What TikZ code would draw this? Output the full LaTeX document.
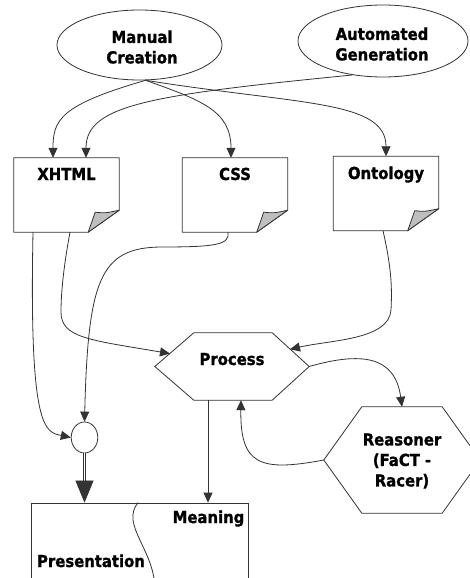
\documentclass[tikz,border=0pt]{standalone}
\usepackage{fontspec}
\setmainfont{DejaVu Sans Condensed}[BoldFeatures={FakeBold=1.2}]
\usetikzlibrary{arrows.meta,shapes.geometric}
\begin{document}
\begin{tikzpicture}[x=1pt,y=-1pt,
  ln/.style={draw=black!80,line width=0.8pt},
  arr/.style={ln,-{Triangle[length=10pt,width=9pt]}},
  txt/.style={font=\fontsize{16.5}{20.5}\selectfont\bfseries,align=center,inner sep=0pt},
  src/.style={ellipse,ln,fill=white,inner sep=0pt},
  docbox/.style={rectangle,inner sep=0pt,minimum width=105pt,minimum height=74pt},
  fold/.style={ln,fill=black!25,line join=round}
]
\useasboundingbox (0,0) rectangle (470,578);
\clip (0,0) rectangle (470,578);
\fill[white] (0,0) rectangle (470,578);

% sources
\node[src,minimum width=165pt,minimum height=70pt] (mc) at (139.5,45) {};
\node[txt] (mcT) at (142,47) {Manual\\Creation};
\node[src,minimum width=170pt,minimum height=72pt] (ag) at (383,41) {};
\node[txt] (agT) at (382,44) {Automated\\Generation};

% documents
\node[docbox] (xhtml) at (66.5,195) {};
\node[docbox] (css) at (235,195) {};
\node[docbox] (onto) at (386,193.5) {};
\foreach \d in {xhtml,css,onto}{
  \draw[ln,fill=white,line join=round] (\d.north west) -- (\d.north east) -- ([yshift=22pt]\d.south east) -- ([xshift=-31pt]\d.south east) -- (\d.south west) -- cycle;
  \filldraw[fold] ([xshift=-31pt]\d.south east) -- ([xshift=-24pt,yshift=20pt]\d.south east) .. controls ([xshift=-14pt,yshift=19pt]\d.south east) .. ([yshift=22pt]\d.south east) -- cycle;
}
\node[txt,anchor=base] (xhtmlT) at (66.5,180) {XHTML};
\node[txt,anchor=base] (cssT) at (235,180) {CSS};
\node[txt,anchor=base] (ontoT) at (386,179) {Ontology};

% process
\node[rectangle,inner sep=0pt,minimum width=154pt,minimum height=67pt] (proc) at (232,366.5) {};
\draw[ln,fill=white] (proc.west) -- ([xshift=39pt]proc.north west) -- ([xshift=-37pt]proc.north east) -- (proc.east) -- ([xshift=-37pt]proc.south east) -- ([xshift=39pt]proc.south west) -- cycle;
\node[txt,anchor=base] (procT) at (232,365) {Process};
\coordinate (procInL) at (170,353.6);
\coordinate (procInR) at (290,349.3);

% reasoner
\node[rectangle,inner sep=0pt,minimum width=156pt,minimum height=106pt] (reas) at (402,460) {};
\draw[ln,fill=white] (reas.west) -- ([xshift=38pt]reas.north west) -- ([xshift=-38pt]reas.north east) -- (reas.east) -- ([xshift=-38pt]reas.south east) -- ([xshift=38pt]reas.south west) -- cycle;
\node[txt] (reasT) at (402,461) {Reasoner\\(FaCT -\\Racer)};

% join circle
\node[ellipse,ln,fill=white,minimum width=26.6pt,minimum height=31pt,inner sep=0pt] (join) at (84.5,437.5) {};

% presentation / meaning
\node[rectangle,ln,fill=white,minimum width=217pt,minimum height=120pt,inner sep=0pt] (pres) at (139.5,563) {};
\draw[ln] ([xshift=-1.5pt]pres.north) .. controls (120,525) and (155,550) .. (155,590);
\node[txt,anchor=base] (meanT) at (208.5,523) {Meaning};
\node[txt,anchor=base] (presT) at (91,567) {Presentation};

% connectors
\draw[arr] (mc.-80) .. controls (60,105) and (53,120) .. ([xshift=-13.5pt]xhtml.north);
\draw[arr] (ag.228) .. controls (150,95) and (86,105) .. ([xshift=19.5pt]xhtml.north);
\draw[arr] (mc.-80) .. controls (200,100) and (231,110) .. ([xshift=-4pt]css.north);
\draw[arr] (mc.-80) .. controls (300,105) and (386,100) .. (onto.north);

\draw[arr] ([xshift=-33.5pt]xhtml.south) .. controls (29,430) and (45,432) .. (join.west);
\draw[arr] ([xshift=3.5pt]xhtml.south) .. controls (63,270) and (61,295) .. (61,312) .. controls (61,338) and (90,340) .. (procInL);
\draw[arr] ([xshift=-7pt]css.south) .. controls (230,245) and (215,247) .. (160,247) .. controls (100,248) and (88,280) .. (join.north);
\draw[arr] ([xshift=-3pt]onto.south) .. controls (392,270) and (392,290) .. (391,310) .. controls (389,340) and (330,340) .. (procInR);

\draw[arr] (proc.east) .. controls (360,352) and (395,355) .. (reas.north);
\draw[arr] (reas.west) .. controls (260,472) and (240,465) .. ([xshift=9pt]proc.south);
\draw[arr] ([xshift=-24pt]proc.south) -- ([xshift=68.5pt]pres.north);

\draw[draw=black!80,line width=0.7pt,double=white,double distance=1.2pt,-{Triangle[length=22pt,width=18pt]}] (join.south) -- ([xshift=-55pt]pres.north);
\end{tikzpicture}
\end{document}
